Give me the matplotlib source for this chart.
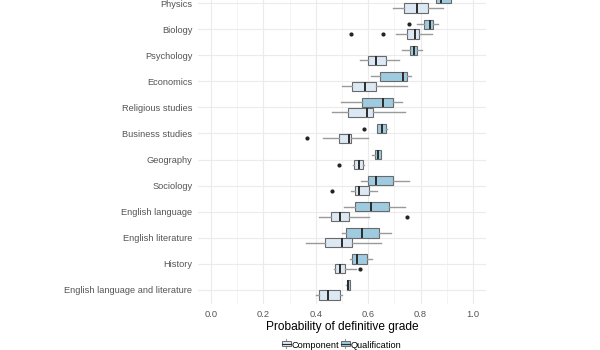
import matplotlib.pyplot as plt
from matplotlib.patches import Patch, Rectangle
from matplotlib.lines import Line2D
from matplotlib.legend_handler import HandlerBase

subjects = ["Physics", "Biology", "Psychology", "Economics", "Religious studies",
            "Business studies", "Geography", "Sociology", "English language",
            "English literature", "History", "English language and literature"]

# [whislo, q1, median, q3, whishi]
qual = [
    [0.830, 0.857, 0.877, 0.915, 0.940],
    [0.785, 0.814, 0.836, 0.849, 0.866],
    [0.730, 0.761, 0.775, 0.786, 0.805],
    [0.609, 0.645, 0.734, 0.749, 0.763],
    [0.497, 0.578, 0.658, 0.696, 0.728],
    [0.632, 0.635, 0.651, 0.667, 0.673],
    [0.615, 0.627, 0.636, 0.648, 0.650],
    [0.573, 0.599, 0.629, 0.695, 0.757],
    [0.509, 0.550, 0.611, 0.679, 0.742],
    [0.499, 0.514, 0.578, 0.641, 0.686],
    [0.531, 0.538, 0.558, 0.594, 0.615],
    [0.517, 0.519, 0.524, 0.530, 0.532],
]
qual_out = [[], [0.756], [], [], [], [0.585], [], [], [], [], [], []]

comp = [
    [0.696, 0.738, 0.788, 0.827, 0.887],
    [0.707, 0.749, 0.779, 0.793, 0.845],
    [0.570, 0.598, 0.631, 0.669, 0.719],
    [0.499, 0.539, 0.589, 0.629, 0.747],
    [0.462, 0.524, 0.597, 0.620, 0.742],
    [0.427, 0.489, 0.528, 0.536, 0.598],
    [0.543, 0.547, 0.565, 0.580, 0.584],
    [0.534, 0.548, 0.565, 0.602, 0.635],
    [0.412, 0.457, 0.492, 0.528, 0.603],
    [0.363, 0.436, 0.499, 0.539, 0.648],
    [0.471, 0.475, 0.491, 0.511, 0.553],
    [0.400, 0.412, 0.448, 0.494, 0.499],
]
comp_out = [[], [0.534, 0.656], [], [], [], [0.365], [0.490], [0.463], [0.748], [], [0.569], []]

comp_col = "#dce8f4"
qual_col = "#9fcbe0"
edge = "#6a6a6a"
whisk = "#9a9a9a"

plt.rcParams['font.family'] = ['Liberation Sans', 'DejaVu Sans']


class BoxKey(HandlerBase):
    # small boxplot glyph like ggplot legend keys
    def create_artists(self, legend, orig, x0, y0, w, h, fs, trans):
        cx = x0 + w / 2
        rect = Rectangle((x0, y0 + h * 0.1), w, h * 0.8, facecolor=orig.get_facecolor(),
                         edgecolor=edge, linewidth=0.7, transform=trans)
        wl = Line2D([cx, cx], [y0 - h * 0.15, y0 + h * 1.15], color=whisk, linewidth=0.8, transform=trans)
        ml = Line2D([x0, x0 + w], [y0 + h / 2, y0 + h / 2], color="#2b2b2b", linewidth=0.8, transform=trans)
        return [wl, rect, ml]


fig = plt.figure(figsize=(6, 3.5), dpi=100)
ax = fig.add_axes([197.9 / 600, 1 - 304 / 350, (486.1 - 197.9) / 600, 304 / 350])

n = len(subjects)
pos = [n - 1 - i for i in range(n)]


def stats(rows, outs):
    return [dict(whislo=r[0], q1=r[1], med=r[2], q3=r[3], whishi=r[4], fliers=o)
            for r, o in zip(rows, outs)]


for rows, outs, col, off in [(qual, qual_out, qual_col, 0.19), (comp, comp_out, comp_col, -0.19)]:
    ax.bxp(stats(rows, outs), positions=[p + off for p in pos], widths=0.36,
           vert=False, patch_artist=True, showcaps=False,
           boxprops=dict(facecolor=col, edgecolor=edge, linewidth=0.8),
           whiskerprops=dict(color=whisk, linewidth=1.0),
           medianprops=dict(color="#2b2b2b", linewidth=1.4),
           flierprops=dict(marker='o', markersize=2, markerfacecolor='#222222',
                           markeredgecolor='#222222'),
           manage_ticks=False, zorder=3)

ax.set_xlim(-0.05, 1.05)
ax.set_ylim(-0.54, 11.12)
ax.set_yticks(pos)
ax.set_yticklabels(subjects)
ax.set_xticks([0, 0.2, 0.4, 0.6, 0.8, 1.0])
ax.set_xticklabels(["0.0", "0.2", "0.4", "0.6", "0.8", "1.0"])
ax.set_xticks([0.1, 0.3, 0.5, 0.7, 0.9], minor=True)
ax.grid(True, which='major', color='#ebebeb', linewidth=0.8)
ax.grid(True, which='minor', axis='x', color='#f2f2f2', linewidth=0.6)
ax.set_axisbelow(True)
for s in ax.spines.values():
    s.set_visible(False)
ax.tick_params(which='both', length=0, labelsize=6.7, colors='#555555', pad=4)
ax.set_xlabel("Probability of definitive grade", fontsize=8.6, labelpad=2)

handles = [Patch(facecolor=comp_col, label="Component"),
           Patch(facecolor=qual_col, label="Qualification")]
fig.legend(handles=handles, loc='center', bbox_to_anchor=(342 / 600, 1 - 345 / 350),
           ncol=2, frameon=False, fontsize=6.6, handlelength=0.9, handleheight=0.8,
           handletextpad=0.15, columnspacing=0.2, borderpad=0,
           handler_map={Patch: BoxKey()})

fig.savefig("out.png", dpi=100)
